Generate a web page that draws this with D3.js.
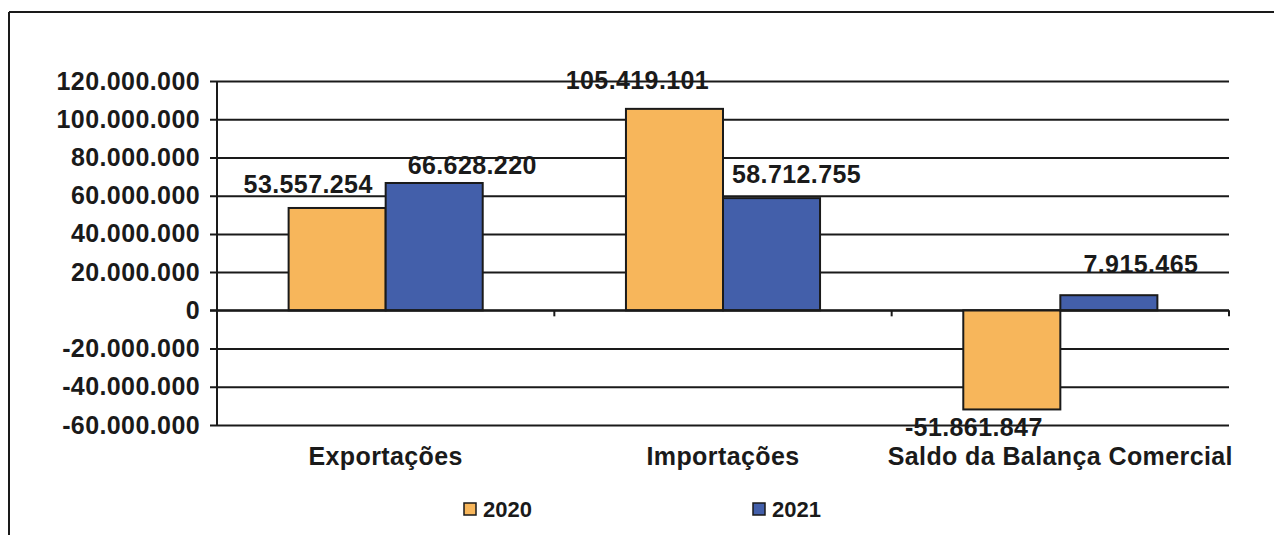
<!DOCTYPE html>
<html>
<head>
<meta charset="utf-8">
<script src="https://cdn.jsdelivr.net/npm/d3@7"></script>
<style>
  html, body { margin: 0; padding: 0; background: #fff; }
  svg { display: block; }
  text { font-family: "Liberation Sans", Arial, Helvetica, sans-serif; font-weight: bold; fill: #1a1a1a; }
</style>
</head>
<body>
<svg id="chart" width="1274" height="535"></svg>
<script>
// Balança comercial: exportações, importações e saldo, 2020 x 2021
const categories = ["Exportações", "Importações", "Saldo da Balança Comercial"];
const seriesNames = ["2020", "2021"];
const values2020 = [53557254, 105419101, -51861847];
const values2021 = [66628220, 58712755, 7915465];
const yTicks = [-60000000, -40000000, -20000000, 0, 20000000, 40000000, 60000000, 80000000, 100000000, 120000000];
const seriesColors = ["#F7B65B", "#435FAA"];

const seriesValues = [values2020, values2021];
const rows = [];
categories.forEach((c, i) => {
  seriesNames.forEach((s, j) => rows.push({ category: c, series: s, si: j, ci: i, value: seriesValues[j][i] }));
});

const locale = d3.formatLocale({ decimal: ",", thousands: ".", grouping: [3], currency: ["R$", ""], minus: "-" });
const fmt = locale.format(",d");

const svg = d3.select("#chart");
const ink = "#1a1a1a";
const spacing = "0.4px";

// plot frame
const plotLeft = 217, plotRight = 1229, plotTop = 81, plotBottom = 425;

const x0 = d3.scaleBand().domain(categories).range([plotLeft, plotRight]).padding(0);
const x1 = d3.scaleBand().domain(seriesNames).range([0, x0.bandwidth()]).paddingInner(0).paddingOuter(0.738);
const y = d3.scaleLinear().domain([-60000000, 120000000]).range([plotBottom, plotTop]);

// outer border (top and left edges)
svg.append("line").attr("x1", 9).attr("x2", 1274).attr("y1", 12).attr("y2", 12)
  .attr("stroke", ink).attr("stroke-width", 2);
svg.append("line").attr("x1", 9).attr("x2", 9).attr("y1", 12).attr("y2", 535)
  .attr("stroke", ink).attr("stroke-width", 2);

// horizontal gridlines with tick stubs, labels via d3 axis
const yAxis = d3.axisLeft(y).tickValues(yTicks).tickFormat(fmt)
  .tickSizeInner(-(plotRight - plotLeft)).tickSizeOuter(0).tickPadding(17);
const gy = svg.append("g").attr("transform", `translate(${plotLeft},0)`).call(yAxis);
gy.select(".domain").remove();
gy.selectAll(".tick line").attr("x1", -7).attr("stroke", ink).attr("stroke-width", 2);
gy.selectAll(".tick text").attr("font-size", 25).attr("fill", ink).attr("letter-spacing", spacing)
  .style("font-family", "'Liberation Sans', Arial, sans-serif").style("font-weight", "bold");

// vertical axis line
svg.append("line").attr("x1", plotLeft).attr("x2", plotLeft).attr("y1", plotTop).attr("y2", plotBottom)
  .attr("stroke", ink).attr("stroke-width", 2);

// category boundary ticks under the zero line
const bounds = categories.map(c => x0(c) + x0.bandwidth());
svg.append("g").selectAll("line").data(bounds).join("line")
  .attr("x1", d => d).attr("x2", d => d).attr("y1", y(0)).attr("y2", y(0) + 6)
  .attr("stroke", ink).attr("stroke-width", 2);

// category labels
svg.append("g").selectAll("text").data(categories).join("text")
  .attr("x", d => x0(d) + x0.bandwidth() / 2)
  .attr("y", 465)
  .attr("text-anchor", "middle")
  .attr("font-size", 25)
  .attr("letter-spacing", spacing)
  .text(d => d);

// bars
svg.append("g").selectAll("rect").data(rows).join("rect")
  .attr("x", d => x0(d.category) + x1(d.series))
  .attr("width", x1.bandwidth())
  .attr("y", d => y(Math.max(0, d.value)))
  .attr("height", d => Math.abs(y(d.value) - y(0)))
  .attr("fill", d => seriesColors[d.si])
  .attr("stroke", ink)
  .attr("stroke-width", 2);

// zero line drawn over bar bottoms
svg.append("line").attr("x1", plotLeft - 7).attr("x2", plotRight).attr("y1", y(0)).attr("y2", y(0))
  .attr("stroke", ink).attr("stroke-width", 2);

// value labels, nudged off the bar ends
const labelShift = [
  [-29, -15], [38, -9],
  [-37, -20], [25, -15],
  [-38, 27], [32, -22]
];
svg.append("g").selectAll("text").data(rows).join("text")
  .attr("x", (d, i) => x0(d.category) + x1(d.series) + x1.bandwidth() / 2 + labelShift[i][0])
  .attr("y", (d, i) => y(d.value) + labelShift[i][1])
  .attr("text-anchor", "middle")
  .attr("font-size", 25)
  .attr("letter-spacing", spacing)
  .text(d => fmt(d.value));

// legend
const legendX = [464, 753];
const lg = svg.append("g").selectAll("g").data(seriesNames).join("g")
  .attr("transform", (d, i) => `translate(${legendX[i]},503)`);
lg.append("rect").attr("width", 12).attr("height", 12)
  .attr("fill", (d, i) => seriesColors[i]).attr("stroke", ink).attr("stroke-width", 1.5);
lg.append("text").attr("x", 19).attr("y", 14).attr("font-size", 22).text(d => d);
</script>
</body>
</html>
